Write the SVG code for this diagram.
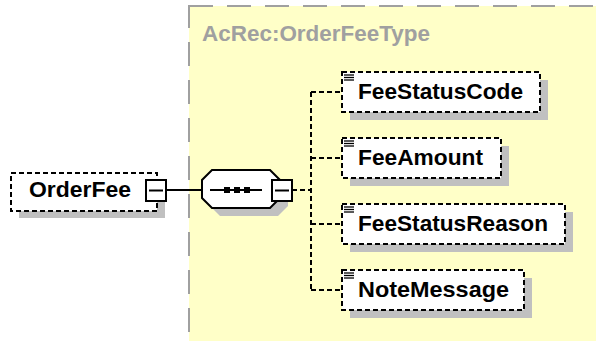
<svg xmlns="http://www.w3.org/2000/svg" width="596" height="341" viewBox="0 0 596 341">
<style>
.shadow{fill:#c0c0c0;stroke:none}
.elem{fill:#ffffff;stroke:#000000;stroke-width:2;stroke-dasharray:5 3}
.lbl{font-family:"Liberation Sans",Arial,sans-serif;font-weight:bold;font-size:22px;fill:#000000}
.title{font-family:"Liberation Sans",Arial,sans-serif;font-weight:bold;font-size:22px;fill:#a0a0a0}
.conn{fill:none;stroke:#000000;stroke-width:2;stroke-dasharray:5 3}
.solid{fill:none;stroke:#000000;stroke-width:2}
.mbox{fill:#ffffff;stroke:#000000;stroke-width:2}
.icon{stroke:#000000;stroke-width:1.3}
</style>
<defs>
<g id="docicon"><line class="icon" x1="0" y1="0" x2="10" y2="0"/><line class="icon" x1="0" y1="2.5" x2="10" y2="2.5"/><line class="icon" x1="0" y1="5" x2="10" y2="5"/></g>
</defs>
<rect x="0" y="0" width="596" height="341" fill="#ffffff"/>
<g id="OrderFeeType">
<rect x="189" y="6" width="430" height="360" fill="#ffffc8" stroke="#a0a0a0" stroke-width="2" stroke-dasharray="24 14"/>
<text class="title" x="202" y="41" textLength="228" lengthAdjust="spacingAndGlyphs">AcRec:OrderFeeType</text>
</g>
<g id="connectors">
<line class="solid" x1="166" y1="190" x2="202" y2="190"/>
<path class="conn" d="M292 190 H311"/>
<path class="conn" d="M311 92 V290"/>
<path class="conn" d="M311 92 H342 M311 158 H342 M311 224 H342 M311 290 H342"/>
</g>
<g id="OrderFee">
<rect class="shadow" x="19" y="180" width="146" height="38"/>
<rect class="elem" x="11" y="173" width="146" height="38"/>
<text class="lbl" x="29" y="197" textLength="102" lengthAdjust="spacingAndGlyphs">OrderFee</text>
<rect class="mbox" x="146" y="180" width="20" height="21"/>
<line class="solid" x1="149" y1="190.5" x2="163" y2="190.5"/>
</g>
<g id="sequence">
<polygon class="shadow" points="220,178 278,178 288,188 288,206 278,216 220,216 210,206 210,188"/>
<polygon fill="#ffffff" stroke="#000000" stroke-width="2" points="212,170 270,170 280,180 280,198 270,208 212,208 202,198 202,180"/>
<line class="solid" x1="210" y1="190" x2="262" y2="190"/>
<rect x="224" y="187" width="6" height="6" fill="#000"/>
<rect x="234" y="187" width="6" height="6" fill="#000"/>
<rect x="244" y="187" width="6" height="6" fill="#000"/>
<rect class="mbox" x="272" y="180" width="20" height="21"/>
<line class="solid" x1="275" y1="190.5" x2="289" y2="190.5"/>
</g>
<g id="FeeStatusCode">
<rect class="shadow" x="350" y="80" width="198" height="40"/>
<rect class="elem" x="342" y="72" width="198" height="40"/>
<use href="#docicon" x="344" y="75"/>
<text class="lbl" x="358" y="99" textLength="165" lengthAdjust="spacingAndGlyphs">FeeStatusCode</text>
</g>
<g id="FeeAmount">
<rect class="shadow" x="350" y="146" width="159" height="40"/>
<rect class="elem" x="342" y="138" width="159" height="40"/>
<use href="#docicon" x="344" y="141"/>
<text class="lbl" x="358" y="165" textLength="125" lengthAdjust="spacingAndGlyphs">FeeAmount</text>
</g>
<g id="FeeStatusReason">
<rect class="shadow" x="350" y="212" width="223" height="40"/>
<rect class="elem" x="342" y="204" width="223" height="40"/>
<use href="#docicon" x="344" y="207"/>
<text class="lbl" x="358" y="231" textLength="190" lengthAdjust="spacingAndGlyphs">FeeStatusReason</text>
</g>
<g id="NoteMessage">
<rect class="shadow" x="350" y="278" width="182" height="40"/>
<rect class="elem" x="342" y="270" width="182" height="40"/>
<use href="#docicon" x="344" y="273"/>
<text class="lbl" x="358" y="297" textLength="151" lengthAdjust="spacingAndGlyphs">NoteMessage</text>
</g>
</svg>
